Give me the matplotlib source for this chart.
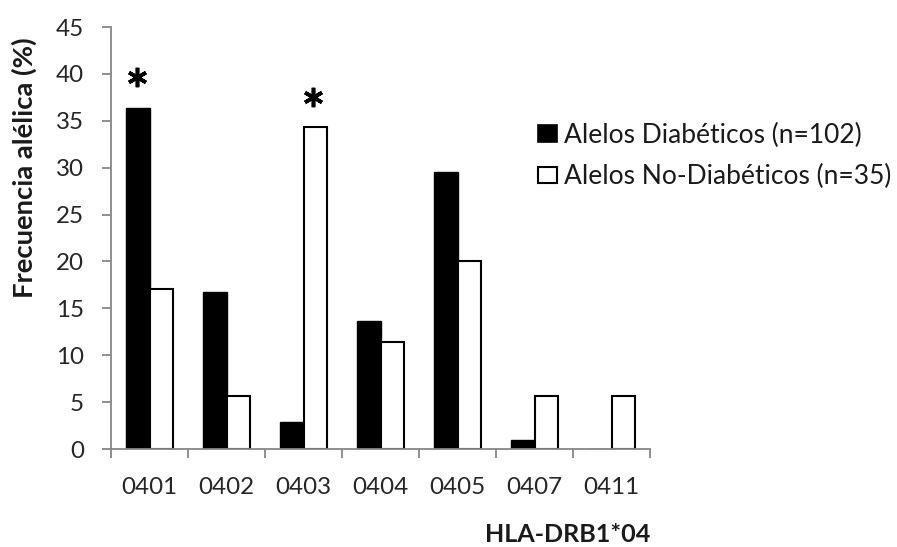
import matplotlib
matplotlib.use("Agg")
import matplotlib.pyplot as plt
import numpy as np
from matplotlib.patches import Patch

categories = ["0401", "0402", "0403", "0404", "0405", "0407", "0411"]
diabeticos = [36.4, 16.7, 2.9, 13.7, 29.5, 1.0, 0.0]
no_diabeticos = [17.1, 5.7, 34.3, 11.4, 20.0, 5.7, 5.7]
labels = ["Alelos Diabéticos (n=102)", "Alelos No-Diabéticos (n=35)"]
star_positions = [(0, 39.7, -0.16), (2, 37.5, 0.12)]  # (category, y, offset)
y_title = "Frecuencia alélica (%)"
x_title = "HLA-DRB1*04"

plt.rcParams['font.family'] = ['Lato', 'DejaVu Sans']
W, H = 897, 547
fig = plt.figure(figsize=(W / 100, H / 100), dpi=100)
renderer = fig.canvas.get_renderer()


def fit_size(text, target_px, weight='normal', base=20.0):
    t = fig.text(0, 0, text, fontsize=base, fontweight=weight)
    w = t.get_window_extent(renderer).width
    t.remove()
    return base * target_px / w


tick_fs = fit_size("0401", 56)
leg_fs = fit_size(labels[0], 298)
ylab_fs = fit_size(y_title, 261, 'bold')
xlab_fs = fit_size(x_title, 166, 'bold')

ax = fig.add_axes([111 / W, 1 - 449 / H, (650 - 111) / W, (449 - 27) / H])

x = np.arange(len(categories))
w = 0.3
ax.bar(x - w / 2, diabeticos, w, color='black', edgecolor='black', linewidth=1.0)
ax.bar(x + w / 2, no_diabeticos, w, color='white', edgecolor='black', linewidth=1.5)

for ci, yv, off in star_positions:
    ax.plot([ci + off], [yv], linestyle='none', marker=(6, 2, 0), markersize=14,
            markeredgewidth=2.6, color='black', clip_on=False)

ax.set_xlim(-0.5, len(categories) - 0.5)
ax.set_ylim(0, 45)
ax.set_yticks(np.arange(0, 46, 5))
ax.set_xticks(x)
ax.set_xticklabels(categories)
ax.set_xticks(np.arange(-0.5, len(categories), 1), minor=True)
ax.tick_params(axis='x', which='major', length=0, pad=20, labelsize=tick_fs, labelcolor='#262626')
ax.tick_params(axis='x', which='minor', length=6.5, width=1.3, color='#868686', direction='out')
ax.tick_params(axis='y', length=6.5, width=1.3, color='#868686', labelsize=tick_fs,
               labelcolor='#262626', pad=13)

for s in ['top', 'right']:
    ax.spines[s].set_visible(False)
for s in ['left', 'bottom']:
    ax.spines[s].set_color('#868686')
    ax.spines[s].set_linewidth(1.3)

fig.text(24 / W, 1 - 168 / H, y_title, rotation=90, ha='center', va='center',
         fontsize=ylab_fs, fontweight='bold', color='#1a1a1a')
fig.text(650 / W, 1 - 534 / H, x_title, ha='right', va='center',
         fontsize=xlab_fs, fontweight='bold', color='#1a1a1a')

em = leg_fs * 100 / 72
handles = [Patch(facecolor='black', edgecolor='black', linewidth=1.2),
           Patch(facecolor='white', edgecolor='black', linewidth=1.5)]
fig.legend(handles, labels, loc='center left', bbox_to_anchor=(538 / W, 1 - 156 / H), frameon=False,
           fontsize=leg_fs, handlelength=19 / em, handleheight=15 / em, handletextpad=7 / em,
           labelspacing=0.62, borderaxespad=0, borderpad=0, labelcolor='#1a1a1a')

fig.savefig("out.png", dpi=100)
